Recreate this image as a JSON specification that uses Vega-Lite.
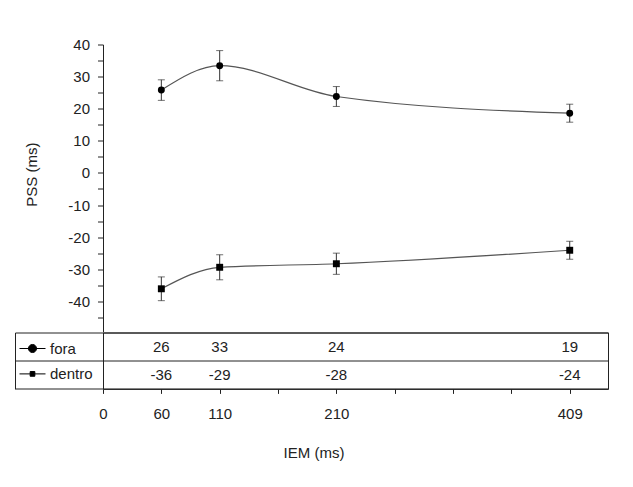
{
  "$schema": "https://vega.github.io/schema/vega-lite/v6.json",
  "padding": {"left": 14, "top": 37.5, "right": 5, "bottom": 5},
  "background": "white",
  "spacing": 0,
  "bounds": "flush",
  "config": {
    "locale": {"number": {"decimal": ".", "thousands": ",", "grouping": [3], "currency": ["$", ""], "minus": "-"}},
    "font": "Liberation Sans",
    "axis": {"labelFont": "Liberation Sans", "titleFont": "Liberation Sans", "labelFontSize": 15, "titleFontSize": 15, "titleFontWeight": "normal", "labelColor": "#222", "titleColor": "#222", "domainColor": "#222", "tickColor": "#222", "grid": false},
    "legend": {"labelFont": "Liberation Sans"}
  },
  "datasets": {
    "pss": [
      {"IEM": 60, "serie": "fora", "PSS": 25.8, "erro": 3.2},
      {"IEM": 110, "serie": "fora", "PSS": 33.4, "erro": 4.7},
      {"IEM": 210, "serie": "fora", "PSS": 23.8, "erro": 3.1},
      {"IEM": 409, "serie": "fora", "PSS": 18.6, "erro": 2.8},
      {"IEM": 60, "serie": "dentro", "PSS": -36.1, "erro": 3.7},
      {"IEM": 110, "serie": "dentro", "PSS": -29.4, "erro": 3.9},
      {"IEM": 210, "serie": "dentro", "PSS": -28.3, "erro": 3.3},
      {"IEM": 409, "serie": "dentro", "PSS": -24.1, "erro": 2.8}
    ]
  },
  "vconcat": [
    {
      "width": 505,
      "height": 287.3,
      "view": {"stroke": null},
      "data": {"name": "pss"},
      "encoding": {
        "x": {"field": "IEM", "type": "quantitative", "scale": {"type": "linear", "domain": [0, 60, 110, 210, 409, 450], "range": [0, 58.34, 116.68, 233.36, 466.72, 505], "nice": false, "zero": false}, "axis": null},
        "y": {"field": "PSS", "type": "quantitative", "scale": {"domain": [-49.5, 40], "nice": false, "zero": false},
          "axis": {"title": "PSS (ms)", "values": [-45, -40, -35, -30, -25, -20, -15, -10, -5, 0, 5, 10, 15, 20, 25, 30, 35, 40], "labelExpr": "datum.value % 10 === 0 ? datum.label : ''", "tickSize": 5.5, "labelPadding": 8, "labelOverlap": false, "titleX": -72, "titleY": 129.7, "titleBaseline": "middle", "titleAlign": "center", "titleAngle": -90}}
      },
      "layer": [
        {"mark": {"type": "line", "interpolate": "monotone", "color": "#555", "strokeWidth": 1.2}, "encoding": {"detail": {"field": "serie"}}},
        {"mark": {"type": "errorbar", "ticks": {"size": 7, "color": "#333"}, "color": "#333", "thickness": 1}, "encoding": {"yError": {"field": "erro"}}},
        {"mark": {"type": "point", "filled": true, "opacity": 1, "size": 48},
          "encoding": {
            "shape": {"field": "serie", "type": "nominal", "scale": {"domain": ["dentro", "fora"], "range": ["square", "circle"]}, "legend": null},
            "color": {"field": "serie", "type": "nominal", "scale": {"domain": ["fora", "dentro"], "range": ["black", "black"]},
              "legend": {"title": null, "orient": "none", "legendX": -84, "legendY": 290.5, "symbolSize": 676, "labelFontSize": 15, "labelColor": "#222", "labelOffset": 4, "rowPadding": 3.4, "symbolFillColor": "black", "symbolStrokeColor": "black", "symbolStrokeWidth": 1, "symbolOpacity": 1,
                "encode": {"symbols": {"update": {"shape": {"signal": "datum.value === 'fora' ? 'M-1,0H1M-0.31,0A0.31,0.31,0,1,1,0.31,0A0.31,0.31,0,1,1,-0.31,0Z' : 'M-1,0H1M-0.18,-0.18H0.18V0.18H-0.18Z'"}, "stroke": {"value": "black"}, "strokeWidth": {"value": 1}}}}}}
          }
        }
      ]
    },
    {
      "width": 505,
      "height": 56.4,
      "view": {"stroke": "#222"},
      "data": {"name": "pss"},
      "mark": {"type": "text", "fontSize": 15, "color": "#222", "font": "Liberation Sans"},
      "encoding": {
        "x": {"field": "IEM", "type": "quantitative", "scale": {"type": "linear", "domain": [0, 60, 110, 210, 409, 450], "range": [0, 58.34, 116.68, 233.36, 466.72, 505], "nice": false, "zero": false},
          "axis": {"title": "IEM (ms)", "values": [0, 60, 110, 160, 210, 259.75, 309.5, 359.25, 409], "labelExpr": "indexof([0, 60, 110, 210, 409], datum.value) >= 0 ? datum.label : ''", "domain": false, "tickSize": 4.5, "labelPadding": 13, "labelFlush": false, "labelOverlap": false, "titleX": 210.5, "titleY": 63.3, "titleBaseline": "middle", "titleAlign": "center"}},
        "y": {"field": "serie", "type": "nominal", "scale": {"domain": ["fora", "dentro"], "paddingInner": 0, "paddingOuter": 0},
          "axis": {"title": null, "labels": false, "tickBand": "extent", "tickSize": -88, "offset": 88, "domain": true, "grid": true, "gridColor": "#222", "gridOpacity": 1}},
        "text": {"field": "PSS", "type": "quantitative", "format": ".0f"}
      }
    }
  ]
}
